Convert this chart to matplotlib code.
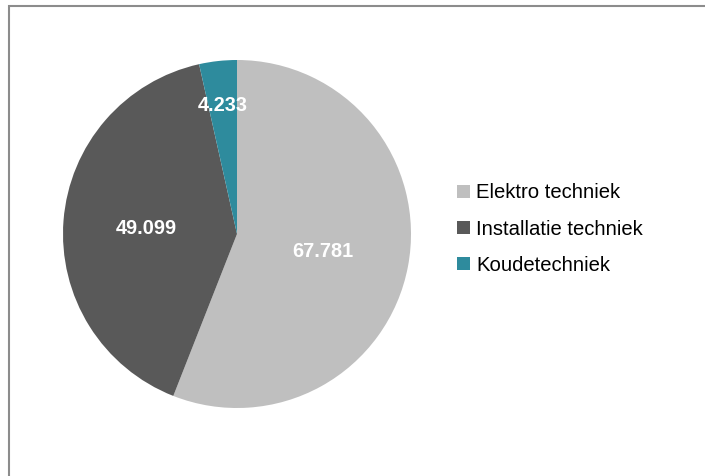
import numpy as np
import matplotlib.pyplot as plt
from matplotlib.patches import Patch, Rectangle

plt.rcParams['font.family'] = ['Liberation Sans', 'DejaVu Sans']

categories = ['Elektro techniek', 'Installatie techniek', 'Koudetechniek']
values = [67.781, 49.099, 4.233]
labels = ['67.781', '49.099', '4.233']
colors = ['#BFBFBF', '#595959', '#2E8B9D']
label_dist = [0.50, 0.52, 0.755]

fig = plt.figure(figsize=(7.05, 4.76), dpi=100)

# gray frame around the chart area
fig.patches.append(Rectangle((8.5 / 705, -0.1), 1.2, 1.1 - 5.5 / 476,
                             transform=fig.transFigure, fill=False,
                             edgecolor='#8C8C8C', linewidth=1.5))

ax = fig.add_axes([63 / 705, 68 / 476, 348 / 705, 348 / 476])
wedges, _ = ax.pie(values, colors=colors, startangle=90, counterclock=False,
                   wedgeprops=dict(linewidth=0))
ax.set_xlim(-1, 1)
ax.set_ylim(-1, 1)
ax.set_aspect('equal')

for w, txt, d in zip(wedges, labels, label_dist):
    ang = np.deg2rad((w.theta1 + w.theta2) / 2)
    ax.text(d * np.cos(ang), d * np.sin(ang) - 0.01, txt, ha='center', va='center',
            color='white', fontsize=14.3, fontweight='bold')

handles = [Patch(facecolor=c, edgecolor='none') for c in colors]
fig.legend(handles, categories, loc='center left',
           bbox_to_anchor=(457 / 705, 1 - 229 / 476), frameon=False,
           fontsize=14.6, handlelength=0.66, handleheight=0.66,
           handletextpad=0.28, labelspacing=0.84, borderpad=0,
           borderaxespad=0)

fig.savefig('out.png', dpi=100)
